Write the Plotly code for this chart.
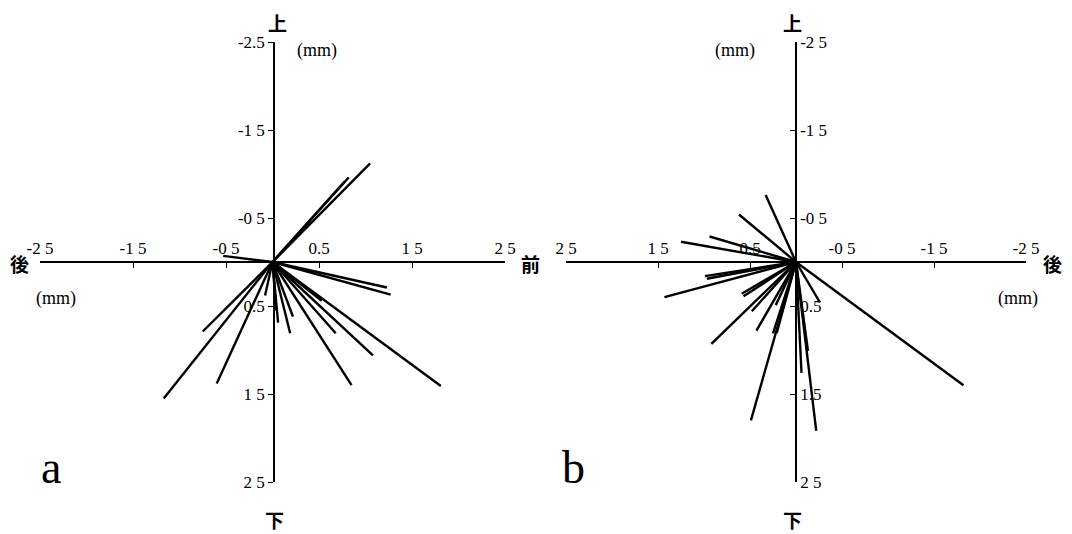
import plotly.graph_objects as go

VW, VH = 1072, 534   # browser window
OFF = 8              # default page body margin
W, H = VW - OFF, VH - OFF

# Panel a: endpoint displacements (mm); x: 後(-) -> 前(+), y: 上(-) -> 下(+)
a_dx = [1.05, 0.82, 0.78, -0.53, 1.23, 1.27, -0.75, -1.17, -0.60, -0.08,
        0.04, 0.06, 0.19, 0.22, 0.53, 0.68, 1.08, 0.85, 1.81]
a_dy = [-1.12, -0.96, -0.92, -0.07, 0.29, 0.37, 0.79, 1.55, 1.38, 0.38,
        0.55, 0.69, 0.81, 0.62, 0.44, 0.81, 1.06, 1.40, 1.41]

# Panel b: x: 前(+, left) -> 後(-, right), y: 上(-) -> 下(+)
b_dx = [0.33, 0.62, 0.94, 1.25, 0.99, 0.97, 1.43, 0.59, 0.57, 0.48,
        0.92, 0.43, 0.21, 0.22, 0.25, 0.49, -0.06, -0.22, -0.13, -0.26, -1.82]
b_dy = [-0.76, -0.54, -0.29, -0.23, 0.16, 0.19, 0.40, 0.36, 0.39, 0.56,
        0.93, 0.78, 0.81, 0.49, 0.81, 1.80, 1.26, 1.92, 1.01, 0.46, 1.40]

tickvals = [-2.5, -1.5, -0.5, 0.5, 1.5, 2.5]
a_xtext = ["-2 5", "-1 5", "-0 5", "0.5", "1 5", "2 5"]
a_ytext = ["-2.5", "-1 5", "-0 5", "0.5", "1 5", "2 5"]
b_xtext = ["-2 5", "-1 5", "-0 5", "0.5", "1 5", "2 5"]
b_ytext = ["-2 5", "-1 5", "-0 5", "0.5", "1.5", "2 5"]


def fx(px):
    return (px - OFF) / W


def fy(py):
    return 1 - (py - OFF) / H


def segs(dx, dy):
    xs, ys = [], []
    for x, y in zip(dx, dy):
        xs += [0, x, None]
        ys += [0, y, None]
    return xs, ys


fig = go.Figure()
xa, ya = segs(a_dx, a_dy)
fig.add_trace(go.Scatter(x=xa, y=ya, mode="lines", xaxis="x", yaxis="y",
                         line=dict(color="black", width=2.4), showlegend=False,
                         hoverinfo="skip"))
xb, yb = segs(b_dx, b_dy)
fig.add_trace(go.Scatter(x=xb, y=yb, mode="lines", xaxis="x2", yaxis="y2",
                         line=dict(color="black", width=2.4), showlegend=False,
                         hoverinfo="skip"))

tf = dict(family="Liberation Serif", size=17, color="black")
ydom = [fy(482), fy(42)]
xpos = fy(262)

common = dict(showgrid=False, zeroline=False, showline=True, linecolor="black",
              linewidth=1.5, tickcolor="black", ticklen=5, tickwidth=1.2,
              tickfont=tf, tickvals=tickvals, fixedrange=True, anchor="free",
              automargin=False)

fig.update_layout(
    width=W, height=H, margin=dict(l=0, r=0, t=0, b=0, pad=0),
    paper_bgcolor="white", plot_bgcolor="rgba(0,0,0,0)",
    xaxis=dict(domain=[fx(40), fx(505)], range=[-2.5, 2.5], position=xpos,
               side="top", ticks="inside", ticktext=a_xtext, **common),
    yaxis=dict(domain=ydom, range=[2.5, -2.5], position=fx(274),
               side="left", ticks="outside", ticktext=a_ytext, **common),
    xaxis2=dict(domain=[fx(566), fx(1026)], range=[2.5, -2.5], position=xpos,
                side="top", ticks="inside", ticktext=b_xtext, **common),
    yaxis2=dict(domain=ydom, range=[2.5, -2.5], position=fx(796),
                side="right", ticks="inside", ticktext=b_ytext, **common),
)

cjk = dict(family="Noto Sans CJK JP", size=19, color="black", weight="bold")
serif = dict(family="Liberation Serif", size=18, color="black")
big = dict(family="Liberation Serif", size=46, color="black")

labels = [
    ("上", 277, 23, cjk), ("下", 274, 519, cjk), ("後", 19, 263, cjk), ("前", 530, 264, cjk),
    ("上", 792, 23, cjk), ("下", 792, 519, cjk), ("後", 1052, 263, cjk),
    ("(mm)", 317, 50, serif), ("(mm)", 56, 298, serif),
    ("(mm)", 735, 50, serif), ("(mm)", 1018, 298, serif),
    ("a", 51, 467, big), ("b", 573, 467, big),
]
for t, px, py, f in labels:
    fig.add_annotation(text=t, x=fx(px), y=fy(py), xref="paper", yref="paper",
                       showarrow=False, font=f, xanchor="center", yanchor="middle")

fig.write_html("out.html")
